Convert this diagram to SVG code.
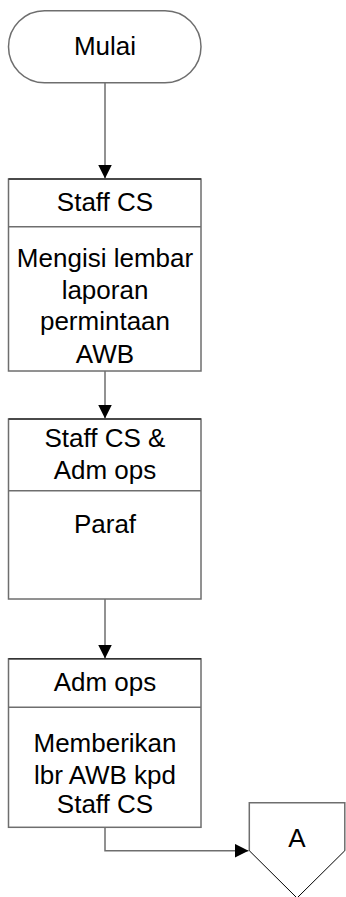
<svg xmlns="http://www.w3.org/2000/svg" width="346" height="897" viewBox="0 0 346 897">
  <style>
    .box { fill: #ffffff; stroke: #6e6e6e; stroke-width: 1.5; }
    .top { stroke: #333333; stroke-width: 1.5; }
    .div { stroke: #6e6e6e; stroke-width: 1.5; }
    .edge { fill: none; stroke: #6e6e6e; stroke-width: 1.5; }
    .lbl { font-family: "Liberation Sans", Arial, sans-serif; font-size: 26px; fill: #000000; text-anchor: middle; }
  </style>
  <defs>
    <marker id="arrow" markerWidth="14" markerHeight="14" refX="14" refY="7" orient="auto" markerUnits="userSpaceOnUse">
      <path d="M0,0 L14,7 L0,14 Z" fill="#000000"/>
    </marker>
  </defs>
  <rect width="346" height="897" fill="#ffffff"/>

  <g id="connectors">
    <line class="edge" x1="105" y1="82.7" x2="105" y2="178.5" marker-end="url(#arrow)"/>
    <line class="edge" x1="105" y1="371" x2="105" y2="418.5" marker-end="url(#arrow)"/>
    <line class="edge" x1="105" y1="599" x2="105" y2="658.5" marker-end="url(#arrow)"/>
    <polyline class="edge" points="105,827.3 105,850.7 248.5,850.7" marker-end="url(#arrow)"/>
  </g>

  <g id="mulai">
    <rect class="box" x="8.5" y="10.7" width="192.5" height="72" rx="36" ry="36" stroke="#555555"/>
    <text class="lbl" x="105" y="55">Mulai</text>
  </g>

  <g id="isi-laporan">
    <rect class="box" x="8.5" y="179" width="192.5" height="192"/>
    <line class="top" x1="8.5" y1="179" x2="201" y2="179"/>
    <line class="div" x1="8.5" y1="226.7" x2="201" y2="226.7"/>
    <text class="lbl" x="105" y="211">Staff CS</text>
    <text class="lbl" x="105" y="266.7">Mengisi lembar</text>
    <text class="lbl" x="105" y="298.5">laporan</text>
    <text class="lbl" x="105" y="330.3">permintaan</text>
    <text class="lbl" x="105" y="362.5">AWB</text>
  </g>

  <g id="paraf">
    <rect class="box" x="8.5" y="419" width="192.5" height="180"/>
    <line class="top" x1="8.5" y1="419" x2="201" y2="419"/>
    <line class="div" x1="8.5" y1="490.7" x2="201" y2="490.7"/>
    <text class="lbl" x="105" y="446.7">Staff CS &amp;</text>
    <text class="lbl" x="105" y="479">Adm ops</text>
    <text class="lbl" x="105" y="533.3">Paraf</text>
  </g>

  <g id="beri-awb">
    <rect class="box" x="8.5" y="658.8" width="192.5" height="168.5"/>
    <line class="top" x1="8.5" y1="658.8" x2="201" y2="658.8"/>
    <line class="div" x1="8.5" y1="707.3" x2="201" y2="707.3"/>
    <text class="lbl" x="105" y="690.7">Adm ops</text>
    <text class="lbl" x="105" y="751.7">Memberikan</text>
    <text class="lbl" x="105" y="784.3">lbr AWB kpd</text>
    <text class="lbl" x="105" y="813.3">Staff CS</text>
  </g>

  <g id="konektor-a">
    <path d="M249.3,850.7 L249.3,802.7 L344.8,802.7 L344.8,850.7" fill="none" stroke="#6e6e6e" stroke-width="1.5"/>
    <path d="M249.3,850.7 L297,898 L344.8,850.7" fill="none" stroke="#000000" stroke-width="1"/>
    <text class="lbl" x="297" y="846.7">A</text>
  </g>
</svg>
